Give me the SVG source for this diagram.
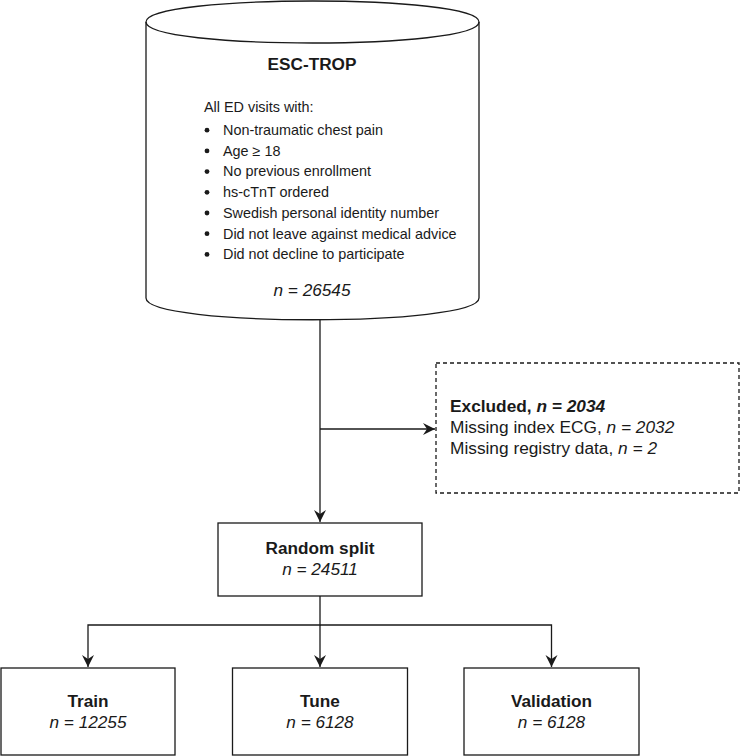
<svg xmlns="http://www.w3.org/2000/svg" width="741" height="756" viewBox="0 0 741 756">
<defs>
<style>
.s{fill:#fff;stroke:#1a1a1a;stroke-width:1.3}
.d{fill:#fff;stroke:#1a1a1a;stroke-width:1.3;stroke-dasharray:4 3}
.c{fill:none;stroke:#1a1a1a;stroke-width:1.3}
text{font-family:"Liberation Sans",Arial,sans-serif;fill:#1a1a1a}
.t{font-size:17.2px;font-weight:bold;text-anchor:middle}
.n{font-size:17.2px;font-style:italic;text-anchor:middle}
.l{font-size:14.4px}
.e{font-size:17.3px}
</style>
<marker id="a" markerUnits="userSpaceOnUse" markerWidth="14" markerHeight="14" viewBox="-13 -7 14 14" refX="0" refY="0" orient="auto">
<path d="M0,0 L-12,-6 L-8,0 L-12,6 Z" fill="#1a1a1a"/>
</marker>
</defs>
<g id="connectors">
<path class="c" d="M320,320 V522" marker-end="url(#a)"/>
<path class="c" d="M320,429 H435" marker-end="url(#a)"/>
<path class="c" d="M320,596 V625 H88 V667" marker-end="url(#a)"/>
<path class="c" d="M320,625 V667" marker-end="url(#a)"/>
<path class="c" d="M320,625 H551.5 V667" marker-end="url(#a)"/>
</g>
<g id="esc-trop">
<path class="s" d="M146,22 C146,-6 479,-6 479,22 L479,298 C479,327 146,327 146,298 Z"/>
<path class="c" d="M146,22 C146,50 479,50 479,22"/>
<text class="t" x="312" y="70">ESC-TROP</text>
<text class="l" x="204" y="112">All ED visits with:</text>
<g>
<circle cx="207" cy="130.2" r="2.4" fill="#1a1a1a"/><text class="l" x="223" y="135">Non-traumatic chest pain</text>
<circle cx="207" cy="150.9" r="2.4" fill="#1a1a1a"/><text class="l" x="223" y="155.7">Age ≥ 18</text>
<circle cx="207" cy="171.6" r="2.4" fill="#1a1a1a"/><text class="l" x="223" y="176.4">No previous enrollment</text>
<circle cx="207" cy="192.3" r="2.4" fill="#1a1a1a"/><text class="l" x="223" y="197.1">hs-cTnT ordered</text>
<circle cx="207" cy="213" r="2.4" fill="#1a1a1a"/><text class="l" x="223" y="217.8">Swedish personal identity number</text>
<circle cx="207" cy="233.7" r="2.4" fill="#1a1a1a"/><text class="l" x="223" y="238.5">Did not leave against medical advice</text>
<circle cx="207" cy="254.4" r="2.4" fill="#1a1a1a"/><text class="l" x="223" y="259.2">Did not decline to participate</text>
</g>
<text class="n" x="312" y="296">n = 26545</text>
</g>
<g id="excluded">
<rect class="d" x="436" y="363" width="303" height="130"/>
<text class="e" x="450" y="412"><tspan font-weight="bold">Excluded, </tspan><tspan font-weight="bold" font-style="italic">n = 2034</tspan></text>
<text class="e" x="450" y="433">Missing index ECG, <tspan font-style="italic">n = 2032</tspan></text>
<text class="e" x="450" y="454">Missing registry data, <tspan font-style="italic">n = 2</tspan></text>
</g>
<g id="random-split">
<rect class="s" x="218" y="523" width="204" height="73"/>
<text class="t" x="320" y="554">Random split</text>
<text class="n" x="320" y="575">n = 24511</text>
</g>
<g id="train">
<rect class="s" x="1" y="668" width="174" height="87"/>
<text class="t" x="88" y="707">Train</text>
<text class="n" x="88" y="728">n = 12255</text>
</g>
<g id="tune">
<rect class="s" x="232.5" y="668" width="175" height="87"/>
<text class="t" x="320" y="707">Tune</text>
<text class="n" x="320" y="728">n = 6128</text>
</g>
<g id="validation">
<rect class="s" x="464" y="668" width="175" height="87"/>
<text class="t" x="551.5" y="707">Validation</text>
<text class="n" x="551.5" y="728">n = 6128</text>
</g>
</svg>
